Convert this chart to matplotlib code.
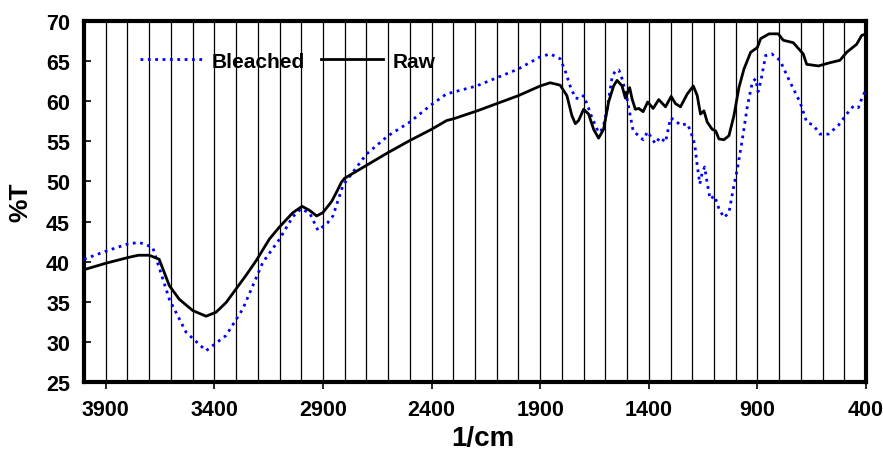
import matplotlib
matplotlib.use("Agg")
import matplotlib.pyplot as plt

plt.rcParams['font.family'] = ['Liberation Sans', 'DejaVu Sans']
plt.rcParams['font.weight'] = 'bold'

raw_x = [4000, 3900, 3800, 3750, 3700, 3654, 3607, 3561, 3499, 3438, 3392, 3346, 3300,
         3254, 3208, 3147, 3101, 3039, 2996, 2962, 2929, 2901, 2860, 2835, 2815, 2800,
         2700, 2600, 2500, 2400, 2330, 2300, 2190, 2000, 1900, 1854, 1808, 1777, 1754,
         1738, 1723, 1700, 1677, 1654, 1631, 1608, 1585, 1562, 1546, 1523, 1508, 1488,
         1477, 1462, 1446, 1426, 1405, 1380, 1354, 1323, 1297, 1277, 1254, 1223, 1195,
         1177, 1162, 1146, 1131, 1108, 1092, 1077, 1054, 1031, 1008, 985, 962, 931, 900,
         885, 846, 827, 804, 781, 735, 689, 673, 619, 566, 520, 489, 443, 420, 400]
raw_y = [39.0, 39.8, 40.5, 40.8, 40.8, 40.3, 37.0, 35.3, 33.9, 33.2, 33.7, 34.9, 36.6,
         38.3, 40.1, 42.8, 44.3, 46.1, 46.9, 46.4, 45.7, 46.1, 47.5, 48.8, 49.9, 50.4,
         52.0, 53.6, 55.1, 56.5, 57.6, 57.8, 58.8, 60.7, 61.9, 62.3, 62.0, 60.7, 58.2,
         57.2, 57.6, 59.0, 58.4, 56.5, 55.4, 56.5, 59.9, 61.9, 62.6, 61.9, 60.4, 61.7,
         60.3, 59.0, 59.1, 58.7, 59.9, 59.1, 60.2, 59.3, 60.6, 59.7, 59.3, 60.9, 61.9,
         60.7, 58.4, 58.8, 57.4, 56.5, 56.3, 55.3, 55.2, 55.7, 58.2, 61.7, 64.0, 66.1, 66.7,
         67.8, 68.4, 68.4, 68.4, 67.6, 67.3, 65.9, 64.6, 64.4, 64.8, 65.1, 66.1, 67.1, 68.2, 68.4]

bl_x = [4000, 3900, 3800, 3746, 3684, 3607, 3530, 3438, 3346, 3269, 3177, 3100, 3039,
        3000, 2960, 2923, 2880, 2854, 2808, 2700, 2600, 2500, 2409, 2332, 2193, 2002,
        1902, 1854, 1808, 1785, 1762, 1738, 1715, 1700, 1685, 1662, 1638, 1623, 1608,
        1589, 1569, 1554, 1538, 1523, 1503, 1488, 1472, 1451, 1426, 1405, 1385, 1369,
        1349, 1323, 1300, 1282, 1254, 1223, 1208, 1189, 1177, 1165, 1154, 1143, 1134,
        1118, 1097, 1077, 1054, 1031, 1011, 992, 969, 946, 923, 908, 897, 885, 862, 834,
        796, 750, 704, 673, 642, 612, 573, 527, 489, 458, 435, 420, 400]
bl_y = [40.3, 41.3, 42.2, 42.4, 41.8, 35.3, 31.2, 28.9, 30.8, 34.1, 39.9, 42.8, 45.6,
        46.6, 46.0, 43.9, 44.8, 45.7, 49.5, 53.4, 55.7, 57.4, 59.4, 60.9, 61.9, 64.0,
        65.5, 65.9, 65.3, 63.8, 61.9, 60.4, 60.3, 60.7, 59.7, 58.0, 56.5, 56.1, 57.0,
        59.4, 63.0, 63.8, 63.9, 62.8, 60.7, 58.6, 56.3, 55.8, 55.2, 56.2, 55.3, 54.7,
        55.5, 54.9, 57.9, 57.7, 57.0, 57.2, 56.3, 54.7, 52.0, 49.7, 51.1, 51.8, 50.3,
        47.8, 48.2, 46.6, 45.5, 46.1, 49.1, 51.6, 55.3, 59.4, 62.4, 62.8, 61.2, 62.4, 65.7, 65.9,
        65.1, 62.4, 59.9, 57.4, 57.0, 55.9, 55.9, 57.0, 58.4, 59.4, 59.2, 60.3, 61.5]

x_ticks = [3900, 3400, 2900, 2400, 1900, 1400, 900, 400]
y_ticks = [25, 30, 35, 40, 45, 50, 55, 60, 65, 70]

fig = plt.figure(figsize=(8.83, 4.52), dpi=100)
ax = fig.add_axes([84/883, 1-383/452, (866-84)/883, (383-22)/452])

ax.plot(bl_x, bl_y, color='#0000FF', linestyle=':', linewidth=2.0, label='Bleached', zorder=3)
ax.plot(raw_x, raw_y, color='black', linestyle='-', linewidth=2.0, label='Raw', zorder=4,
        solid_joinstyle='round')

ax.set_xlim(4000, 400)
ax.set_ylim(25, 70)
ax.set_xticks(x_ticks)
ax.set_xticks(list(range(3900, 400, -100)), minor=True)
ax.set_yticks(y_ticks)
ax.set_xticklabels([str(v) for v in x_ticks], fontsize=15.5, fontweight='bold')
ax.set_yticklabels([str(v) for v in y_ticks], fontsize=15.5, fontweight='bold')
ax.grid(True, which='both', axis='x', color='black', linewidth=0.9)
ax.grid(False, axis='y')
ax.tick_params(axis='x', which='major', direction='out', length=5, width=1.2, pad=7)
ax.tick_params(axis='x', which='minor', length=0)
ax.tick_params(axis='y', direction='in', length=5, width=1.2, pad=10)
for s in ax.spines.values():
    s.set_linewidth(3.0)

ax.set_xlabel('1/cm', fontsize=20, fontweight='bold')
ax.xaxis.set_label_coords(0.51, -0.118)
ax.set_ylabel('%T', fontsize=19, fontweight='bold', labelpad=10)

leg = ax.legend(ncol=2, frameon=False, loc='center left',
                bbox_to_anchor=((140-84)/782, (383-62)/361),
                borderpad=0, borderaxespad=0, handlelength=3.0, handletextpad=0.45,
                columnspacing=0.75, prop={'size': 15, 'weight': 'bold'})

fig.savefig('out.png', dpi=100)
